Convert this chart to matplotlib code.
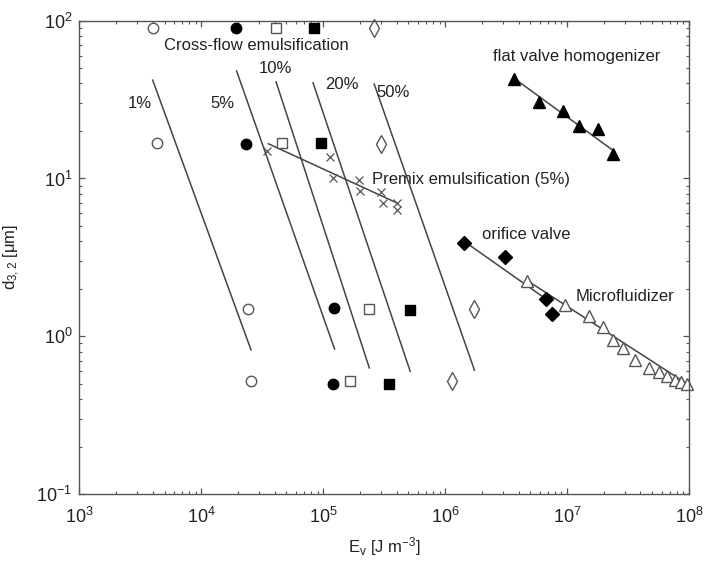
import matplotlib.pyplot as plt
from matplotlib.ticker import FuncFormatter, LogLocator, NullFormatter
import numpy as np

plt.rcParams['font.family'] = ['Liberation Sans', 'DejaVu Sans']
plt.rcParams['mathtext.fontset'] = 'custom'
plt.rcParams['mathtext.rm'] = 'Liberation Sans'
plt.rcParams['mathtext.it'] = 'Liberation Sans:italic'

# cross-flow emulsification, one series per disperse phase fraction
cf_1_x = [4000, 4300, 24100, 25600]
cf_1_y = [90, 16.8, 1.48, 0.52]
cf_5_x = [19300, 23200, 123600, 121000]
cf_5_y = [90, 16.6, 1.50, 0.50]
cf_10_x = [41100, 45700, 239000, 166000]
cf_10_y = [90, 16.8, 1.48, 0.52]
cf_20_x = [84700, 95300, 517000, 349000]
cf_20_y = [90, 16.8, 1.46, 0.50]
cf_50_x = [262000, 296000, 1740000, 1135000]
cf_50_y = [90, 16.6, 1.48, 0.52]

# iso-fraction lines (end points)
lines_x = [[4000, 25600], [19500, 124000], [41100, 239000], [82600, 517000], [262000, 1740000]]
lines_y = [[42, 0.82], [48, 0.83], [41, 0.63], [40.4, 0.60], [39.7, 0.61]]
frac_labels = ['1%', '5%', '10%', '20%', '50%']
frac_lab_x = [3150, 15000, 40300, 143000, 374000]
frac_lab_y = [30, 30, 50, 39.7, 35.3]

# premix emulsification (5%)
pm_x = [34400, 114000, 120000, 197000, 201000, 299000, 308000, 402000, 402000]
pm_y = [15.0, 13.7, 10.1, 9.8, 8.3, 8.2, 7.0, 7.0, 6.3]
pm_line_x = [35500, 402000]
pm_line_y = [16.6, 7.0]

# flat valve homogenizer
fv_x = [3.70e6, 5.90e6, 9.34e6, 1.26e7, 1.81e7, 2.40e7]
fv_y = [42.7, 30.7, 26.8, 21.5, 20.5, 14.3]
fv_line_x = [3.70e6, 2.40e7]
fv_line_y = [43, 15.0]

# orifice valve
or_x = [1.43e6, 3.10e6, 6.73e6, 7.50e6]
or_y = [3.9, 3.2, 1.72, 1.38]
or_line_x = [1.43e6, 6.73e6]
or_line_y = [4.0, 1.72]

# microfluidizer
mf_x = [4.73e6, 9.64e6, 1.50e7, 1.97e7, 2.36e7, 2.87e7, 3.62e7, 4.72e7,
        5.70e7, 6.59e7, 7.71e7, 8.63e7, 9.66e7]
mf_y = [2.25, 1.58, 1.35, 1.14, 0.95, 0.84, 0.71, 0.63, 0.59, 0.56, 0.53, 0.51, 0.50]
mf_line_x = [4.73e6, 1e8]
mf_line_y = [2.25, 0.49]

gray = '#555555'
lc = '#444444'
tc = '#222222'

fig = plt.figure(figsize=(7.04, 5.61), dpi=100)
ax = fig.add_axes([0.1126, 0.1194, 0.8661, 0.8437])
ax.set_xscale('log')
ax.set_yscale('log')
ax.set_xlim(1e3, 1e8)
ax.set_ylim(1e-1, 1e2)

# lines
for lx, ly in zip(lines_x, lines_y):
    ax.plot(lx, ly, color=lc, lw=1.1)
for lx, ly in [(pm_line_x, pm_line_y), (fv_line_x, fv_line_y),
               (or_line_x, or_line_y), (mf_line_x, mf_line_y)]:
    ax.plot(lx, ly, color=lc, lw=1.1)

# markers
ax.plot(cf_1_x, cf_1_y, 'o', ms=7.5, mfc='white', mec=gray, mew=1.0, ls='none', clip_on=False)
ax.plot(cf_5_x, cf_5_y, 'o', ms=7.5, mfc='black', mec='black', ls='none', clip_on=False)
ax.plot(cf_10_x, cf_10_y, 's', ms=6.5, mfc='white', mec=gray, mew=1.0, ls='none', clip_on=False)
ax.plot(cf_20_x, cf_20_y, 's', ms=6.5, mfc='black', mec='black', ls='none', clip_on=False)
ax.plot(cf_50_x, cf_50_y, 'd', ms=9, mfc='white', mec=gray, mew=1.0, ls='none', clip_on=False)
ax.plot(pm_x, pm_y, 'x', ms=5.5, mec=gray, mew=0.9, ls='none')
ax.plot(fv_x, fv_y, '^', ms=8.5, mfc='black', mec='black', ls='none')
ax.plot(or_x, or_y, 'D', ms=7, mfc='black', mec='black', ls='none')
ax.plot(mf_x, mf_y, '^', ms=8.5, mfc='white', mec=gray, mew=1.0, ls='none', clip_on=False)

# annotations
fs = 12
for lab, tx, ty in zip(frac_labels, frac_lab_x, frac_lab_y):
    ax.text(tx, ty, lab, fontsize=fs, color=tc, ha='center', va='center')
ax.text(28500, 70, 'Cross-flow emulsification', fontsize=fs, color=tc, ha='center', va='center')
ax.text(2.52e5, 9.8, 'Premix emulsification (5%)', fontsize=fs, color=tc, ha='left', va='center')
ax.text(1.21e7, 59.2, 'flat valve homogenizer', fontsize=fs, color=tc, ha='center', va='center')
ax.text(4.61e6, 4.43, 'orifice valve', fontsize=fs, color=tc, ha='center', va='center')
ax.text(3.0e7, 1.78, 'Microfluidizer', fontsize=fs, color=tc, ha='center', va='center')

# axes styling
fmt = FuncFormatter(lambda v, p: r'$\mathregular{10^{%d}}$' % int(round(np.log10(v))))
ax.xaxis.set_major_locator(LogLocator(base=10, numticks=10))
ax.yaxis.set_major_locator(LogLocator(base=10, numticks=10))
ax.xaxis.set_major_formatter(fmt)
ax.yaxis.set_major_formatter(fmt)
ax.xaxis.set_minor_formatter(NullFormatter())
ax.yaxis.set_minor_formatter(NullFormatter())
ax.tick_params(which='both', direction='in', top=True, right=True, colors=gray,
               labelcolor=tc, labelsize=13)
ax.tick_params(which='major', length=4.5, width=0.9)
ax.tick_params(which='minor', length=2.5, width=0.8)
ax.tick_params(axis='x', which='major', pad=9)
ax.tick_params(axis='y', which='major', pad=5)
for s in ax.spines.values():
    s.set_color(gray)
    s.set_linewidth(1.0)

ax.set_xlabel(r'$\mathregular{E_v\ [J\ m^{-3}]}$', fontsize=12, color=tc, labelpad=6)
ax.set_ylabel(r'$\mathregular{d_{3,2}\ [\mu m]}$', fontsize=12, color=tc, labelpad=10)

fig.savefig('out.png', dpi=100)
